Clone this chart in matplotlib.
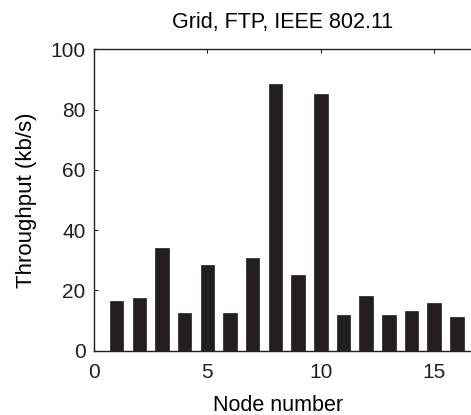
import numpy as np
import matplotlib
matplotlib.use('Agg')
import matplotlib.pyplot as plt

plt.rcParams['font.family'] = ['Liberation Sans', 'DejaVu Sans']

# per-node throughput
nodes = list(range(1, 17))
throughput = [16.5, 17.4, 34.0, 12.6, 28.4, 12.6, 30.6, 88.5,
              25.1, 85.1, 11.7, 18.1, 11.7, 13.1, 15.9, 11.0]
xticks = [0, 5, 10, 15]
yticks = [0, 20, 40, 60, 80, 100]

fig = plt.figure(figsize=(4.71, 4.15), dpi=100)
# axes runs past the right edge of the figure
ax = fig.add_axes([94 / 471, (415 - 350.5) / 415, 385.4 / 471, 301.2 / 415])

ax.bar(nodes, throughput, width=0.6, color='#231f20', edgecolor='#231f20', linewidth=0.5)

ax.set_xlim(0, 17)
ax.set_ylim(0, 100)
ax.set_xticks(xticks)
ax.set_yticks(yticks)
ax.tick_params(direction='in', length=3, width=0.8, labelsize=15,
               top=True, right=True, colors='#231f20')
ax.tick_params(axis='x', pad=9)
ax.tick_params(axis='y', pad=6)
for s in ax.spines.values():
    s.set_linewidth(1.0)
    s.set_color('#231f20')

ax.set_xlabel('Node number', fontsize=15.5, labelpad=7)
ax.xaxis.set_label_coords(0.477, -0.147)
ax.set_ylabel('Throughput (kb/s)', fontsize=16, labelpad=10)
ax.set_title('Grid, FTP, IEEE 802.11', fontsize=15.5, pad=15, x=0.49)

fig.savefig('out.png', dpi=100)
